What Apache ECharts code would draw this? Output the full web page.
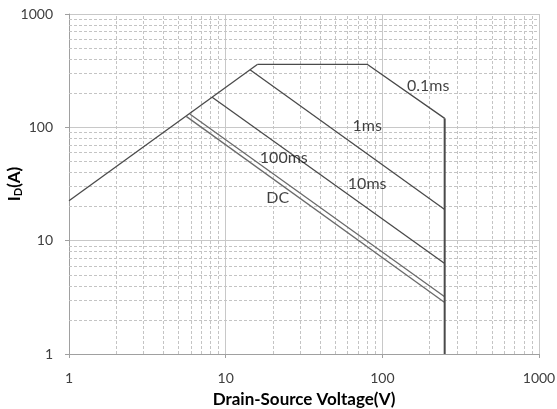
<!DOCTYPE html>
<html>
<head>
<meta charset="utf-8">
<script src="https://cdn.jsdelivr.net/npm/echarts@6/dist/echarts.min.js"></script>
<style>
  html, body { margin: 0; padding: 0; background: #fff; }
  #chart { width: 557px; height: 409px; }
</style>
</head>
<body>
<div id="chart"></div>
<script>
// Safe operating area boundaries, [Vds (V), Id (A)]
const rdsLimit  = [[1, 22.5], [16, 360]];
const pulse01ms = [[16, 360], [80, 360], [250, 120]];
const pulse1ms  = [[14.3, 322], [250, 18.8]];
const pulse10ms = [[8.2, 184], [250, 6.3]];
const pulse100ms = [[5.9, 131], [250, 3.2]];
const dcLine    = [[5.6, 125], [250, 2.85]];
const vdssLimit = [[250, 120], [250, 1]];

// Curve labels: text and anchor point in data units
const curveLabels = [
  { text: '0.1ms', at: [196, 232] },
  { text: '1ms',   at: [80, 103] },
  { text: '100ms', at: [23.5, 53.5] },
  { text: '10ms',  at: [80, 31.5] },
  { text: 'DC',    at: [21.5, 23.7] }
];

// Decade range and minor grid multipliers
const decadesX = [1, 10, 100];
const decadesY = [1, 10, 100];
const minorSteps = [2, 3, 4, 5, 6, 7, 8, 9];

const FONT = 'Lato, "Open Sans", sans-serif';

function minorLines(decades, key) {
  const out = [];
  decades.forEach(d => minorSteps.forEach(m => {
    const o = {}; o[key] = d * m; out.push(o);
  }));
  return out;
}

const curveStyle = { color: '#4a4a4a', width: 1.3 };
const lightStyle = { color: '#6a6a6a', width: 1.3 };

function curve(name, data, style) {
  return {
    name, type: 'line', data, symbol: 'none', animation: false,
    lineStyle: style, z: 5
  };
}

const plainNumber = v => String(Math.round(v));

const chart = echarts.init(document.getElementById('chart'), null, { renderer: 'canvas' });

const option = {
  animation: false,
  grid: { left: 69, right: 18, top: 14, bottom: 55, containLabel: false, outerBoundsMode: 'none' },
  xAxis: {
    type: 'log', logBase: 10, min: 1, max: 1000,
    name: 'Drain-Source Voltage(V)',
    nameLocation: 'middle', nameGap: 37,
    nameTextStyle: { fontFamily: FONT, fontWeight: 'bold', fontSize: 17, color: '#000' },
    axisLine: { lineStyle: { color: '#a0a0a0', width: 1 } },
    axisTick: { show: true, length: 4, lineStyle: { color: '#a0a0a0' } },
    axisLabel: { fontFamily: FONT, fontSize: 14, color: '#404040', margin: 17, formatter: plainNumber },
    splitLine: { show: true, lineStyle: { color: '#c8c8c8', width: 1 } },
    minorTick: { show: false }, minorSplitLine: { show: false }
  },
  yAxis: {
    type: 'log', logBase: 10, min: 1, max: 1000,
    name: '{a|I}{b|D}{a|(A)}',
    nameLocation: 'middle', nameGap: 45, nameRotate: 90,
    nameMoveOverlap: false,
    nameTextStyle: {
      rich: {
        a: { fontFamily: FONT, fontWeight: 'bold', fontSize: 17, color: '#000' },
        b: { fontFamily: FONT, fontWeight: 'bold', fontSize: 11, color: '#000', verticalAlign: 'bottom', padding: [8, 0, 0, 0] }
      }
    },
    axisLine: { show: true, lineStyle: { color: '#a0a0a0', width: 1 } },
    axisTick: { show: true, length: 4, lineStyle: { color: '#a0a0a0' } },
    axisLabel: { fontFamily: FONT, fontSize: 14, color: '#404040', margin: 16, formatter: plainNumber },
    splitLine: { show: true, lineStyle: { color: '#c8c8c8', width: 1 } },
    minorTick: { show: false }, minorSplitLine: { show: false }
  },
  series: [
    {
      // minor grid (dashed)
      type: 'line', data: [], silent: true, animation: false, z: 1,
      markLine: {
        silent: true, symbol: 'none', animation: false,
        label: { show: false },
        lineStyle: { color: '#c4c4c4', type: [3, 2], width: 1 },
        emphasis: { disabled: true },
        data: minorLines(decadesX, 'xAxis').concat(minorLines(decadesY, 'yAxis'))
      }
    },
    curve('Rds(on)', rdsLimit, curveStyle),
    curve('0.1ms', pulse01ms, curveStyle),
    curve('1ms', pulse1ms, curveStyle),
    curve('10ms', pulse10ms, curveStyle),
    curve('100ms', pulse100ms, lightStyle),
    curve('DC', dcLine, lightStyle),
    curve('Vdss', vdssLimit, { color: '#4a4a4a', width: 2 }),
    {
      type: 'scatter', symbolSize: 0, silent: true, z: 6,
      data: curveLabels.map(l => ({ value: l.at, name: l.text })),
      label: {
        show: true, position: 'inside', formatter: p => p.name,
        fontFamily: FONT, fontSize: 16, color: '#111'
      }
    }
  ]
};

chart.setOption(option);
</script>
</body>
</html>
